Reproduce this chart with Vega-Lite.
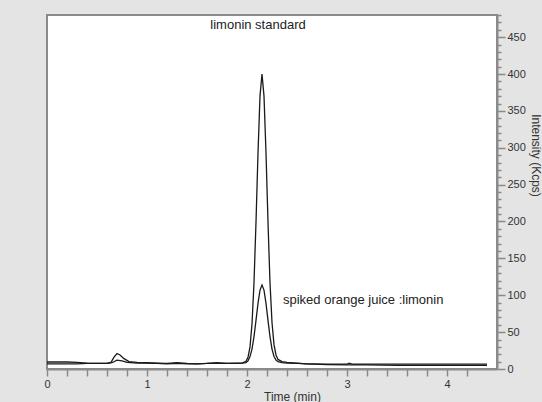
{
  "$schema": "https://vega.github.io/schema/vega-lite/v6.json",
  "width": 450,
  "height": 354,
  "autosize": {"type": "none"},
  "padding": {"left": 47, "top": 15, "right": 45, "bottom": 33},
  "background": "#e4e4e4",
  "config": {
    "view": {"fill": "white", "stroke": "#8a8a8a", "strokeWidth": 2},
    "axis": {
      "domainColor": "#8a8a8a", "domainWidth": 2, "tickColor": "#8a8a8a", "tickWidth": 1.5,
      "labelColor": "#333333", "labelFont": "Liberation Sans", "labelFontSize": 11,
      "titleColor": "#333333", "titleFont": "Liberation Sans", "titleFontSize": 12, "titleFontWeight": "normal",
      "grid": false, "labelOverlap": false, "labelFlush": false, "labelBound": false
    }
  },
  "datasets": {
    "traces": [
      {"s": "standard", "t": 0, "v": 7}, {"s": "standard", "t": 0.1, "v": 7}, {"s": "standard", "t": 0.2, "v": 7}, {"s": "standard", "t": 0.3, "v": 7},
      {"s": "standard", "t": 0.4, "v": 7.5}, {"s": "standard", "t": 0.5, "v": 7.5}, {"s": "standard", "t": 0.6, "v": 7.5}, {"s": "standard", "t": 0.65, "v": 8.5},
      {"s": "standard", "t": 0.7, "v": 12}, {"s": "standard", "t": 0.75, "v": 11}, {"s": "standard", "t": 0.8, "v": 9}, {"s": "standard", "t": 0.9, "v": 8},
      {"s": "standard", "t": 1.0, "v": 8}, {"s": "standard", "t": 1.1, "v": 7.5}, {"s": "standard", "t": 1.2, "v": 7}, {"s": "standard", "t": 1.3, "v": 7.5},
      {"s": "standard", "t": 1.4, "v": 7}, {"s": "standard", "t": 1.5, "v": 7}, {"s": "standard", "t": 1.6, "v": 7.5}, {"s": "standard", "t": 1.7, "v": 7.5},
      {"s": "standard", "t": 1.8, "v": 7.5}, {"s": "standard", "t": 1.9, "v": 8}, {"s": "standard", "t": 1.95, "v": 8}, {"s": "standard", "t": 1.99, "v": 10.4},
      {"s": "standard", "t": 2.01, "v": 15.8}, {"s": "standard", "t": 2.03, "v": 30}, {"s": "standard", "t": 2.05, "v": 61}, {"s": "standard", "t": 2.07, "v": 117},
      {"s": "standard", "t": 2.09, "v": 199}, {"s": "standard", "t": 2.11, "v": 293}, {"s": "standard", "t": 2.13, "v": 370}, {"s": "standard", "t": 2.15, "v": 400},
      {"s": "standard", "t": 2.17, "v": 370}, {"s": "standard", "t": 2.19, "v": 293}, {"s": "standard", "t": 2.21, "v": 199}, {"s": "standard", "t": 2.23, "v": 117},
      {"s": "standard", "t": 2.25, "v": 63}, {"s": "standard", "t": 2.27, "v": 33}, {"s": "standard", "t": 2.29, "v": 19}, {"s": "standard", "t": 2.31, "v": 13},
      {"s": "standard", "t": 2.35, "v": 10}, {"s": "standard", "t": 2.4, "v": 9}, {"s": "standard", "t": 2.5, "v": 8}, {"s": "standard", "t": 2.6, "v": 7},
      {"s": "standard", "t": 2.8, "v": 6}, {"s": "standard", "t": 3.0, "v": 5.5}, {"s": "standard", "t": 3.2, "v": 5.5}, {"s": "standard", "t": 3.5, "v": 5},
      {"s": "standard", "t": 4.0, "v": 5}, {"s": "standard", "t": 4.4, "v": 5},
      {"s": "juice", "t": 0, "v": 9.5}, {"s": "juice", "t": 0.1, "v": 9.5}, {"s": "juice", "t": 0.2, "v": 9.5}, {"s": "juice", "t": 0.3, "v": 9},
      {"s": "juice", "t": 0.4, "v": 8}, {"s": "juice", "t": 0.5, "v": 7.5}, {"s": "juice", "t": 0.6, "v": 7.5}, {"s": "juice", "t": 0.64, "v": 9},
      {"s": "juice", "t": 0.67, "v": 16}, {"s": "juice", "t": 0.7, "v": 21}, {"s": "juice", "t": 0.73, "v": 19}, {"s": "juice", "t": 0.77, "v": 14},
      {"s": "juice", "t": 0.82, "v": 10}, {"s": "juice", "t": 0.9, "v": 9}, {"s": "juice", "t": 1.0, "v": 8.5}, {"s": "juice", "t": 1.1, "v": 8},
      {"s": "juice", "t": 1.2, "v": 7.5}, {"s": "juice", "t": 1.3, "v": 8.5}, {"s": "juice", "t": 1.4, "v": 7.5}, {"s": "juice", "t": 1.5, "v": 7},
      {"s": "juice", "t": 1.6, "v": 7.5}, {"s": "juice", "t": 1.7, "v": 8.5}, {"s": "juice", "t": 1.8, "v": 7.5}, {"s": "juice", "t": 1.9, "v": 7.5},
      {"s": "juice", "t": 1.95, "v": 8}, {"s": "juice", "t": 1.99, "v": 8.6}, {"s": "juice", "t": 2.01, "v": 11}, {"s": "juice", "t": 2.03, "v": 17},
      {"s": "juice", "t": 2.05, "v": 27}, {"s": "juice", "t": 2.07, "v": 44}, {"s": "juice", "t": 2.09, "v": 66}, {"s": "juice", "t": 2.11, "v": 89},
      {"s": "juice", "t": 2.13, "v": 107}, {"s": "juice", "t": 2.15, "v": 114}, {"s": "juice", "t": 2.17, "v": 107}, {"s": "juice", "t": 2.19, "v": 89},
      {"s": "juice", "t": 2.21, "v": 66}, {"s": "juice", "t": 2.23, "v": 44}, {"s": "juice", "t": 2.25, "v": 27}, {"s": "juice", "t": 2.27, "v": 17},
      {"s": "juice", "t": 2.29, "v": 12}, {"s": "juice", "t": 2.31, "v": 10}, {"s": "juice", "t": 2.35, "v": 8.5}, {"s": "juice", "t": 2.4, "v": 8},
      {"s": "juice", "t": 2.5, "v": 7.5}, {"s": "juice", "t": 2.6, "v": 7}, {"s": "juice", "t": 2.8, "v": 6.5}, {"s": "juice", "t": 3.0, "v": 6.5},
      {"s": "juice", "t": 3.02, "v": 8}, {"s": "juice", "t": 3.05, "v": 6.5}, {"s": "juice", "t": 3.2, "v": 6.5}, {"s": "juice", "t": 3.5, "v": 6.5},
      {"s": "juice", "t": 4.0, "v": 6.5}, {"s": "juice", "t": 4.4, "v": 6.5}
    ],
    "labels": [
      {"t": 2.11, "v": 466, "label": "limonin standard", "a": "center"},
      {"t": 2.36, "v": 93, "label": "spiked orange juice :limonin", "a": "left"}
    ]
  },
  "layer": [
    {
      "data": {"name": "traces"},
      "mark": {"type": "line", "color": "#1a1a1a", "strokeWidth": 1.3},
      "encoding": {
        "x": {
          "field": "t", "type": "quantitative",
          "scale": {"domain": [0, 4.5], "nice": false, "zero": false},
          "axis": {
            "orient": "bottom", "title": "Time (min)", "tickCount": 200,
            "values": [0, 0.2, 0.4, 0.6, 0.8, 1, 1.2, 1.4, 1.6, 1.8, 2, 2.2, 2.4, 2.6, 2.8, 3, 3.2, 3.4, 3.6, 3.8, 4, 4.2],
            "labelExpr": "datum.value % 1 === 0 ? format(datum.value, 'd') : ''",
            "tickSize": 7, "labelPadding": 2,
            "titleX": 245, "titleY": 27, "titleBaseline": "middle", "titleAlign": "center"
          }
        },
        "y": {
          "field": "v", "type": "quantitative",
          "scale": {"domain": [0, 480], "nice": false},
          "axis": {
            "orient": "right", "title": "Intensity (Kcps)", "tickCount": 200,
            "values": [0, 10, 20, 30, 40, 50, 60, 70, 80, 90, 100, 110, 120, 130, 140, 150, 160, 170, 180, 190, 200, 210, 220, 230, 240, 250, 260, 270, 280, 290, 300, 310, 320, 330, 340, 350, 360, 370, 380, 390, 400, 410, 420, 430, 440, 450, 460, 470, 480],
            "labelExpr": "datum.value % 50 === 0 && datum.value <= 450 ? format(datum.value, 'd') : ''",
            "tickSize": {"condition": {"test": "datum.value % 50 === 0", "value": 8}, "value": 4},
            "labelPadding": 2, "labelBaseline": "middle",
            "titleAngle": 90, "titleX": 38, "titleY": 140, "titleAlign": "center", "titleBaseline": "middle"
          }
        },
        "detail": {"field": "s"}
      }
    },
    {
      "data": {"name": "labels"},
      "transform": [{"filter": "datum.a === 'center'"}],
      "mark": {"type": "text", "font": "Liberation Sans", "fontSize": 13, "color": "#222222", "baseline": "middle", "align": "center"},
      "encoding": {
        "x": {"field": "t", "type": "quantitative"},
        "y": {"field": "v", "type": "quantitative"},
        "text": {"field": "label"}
      }
    },
    {
      "data": {"name": "labels"},
      "transform": [{"filter": "datum.a === 'left'"}],
      "mark": {"type": "text", "font": "Liberation Sans", "fontSize": 13, "color": "#222222", "baseline": "middle", "align": "left"},
      "encoding": {
        "x": {"field": "t", "type": "quantitative"},
        "y": {"field": "v", "type": "quantitative"},
        "text": {"field": "label"}
      }
    }
  ]
}
